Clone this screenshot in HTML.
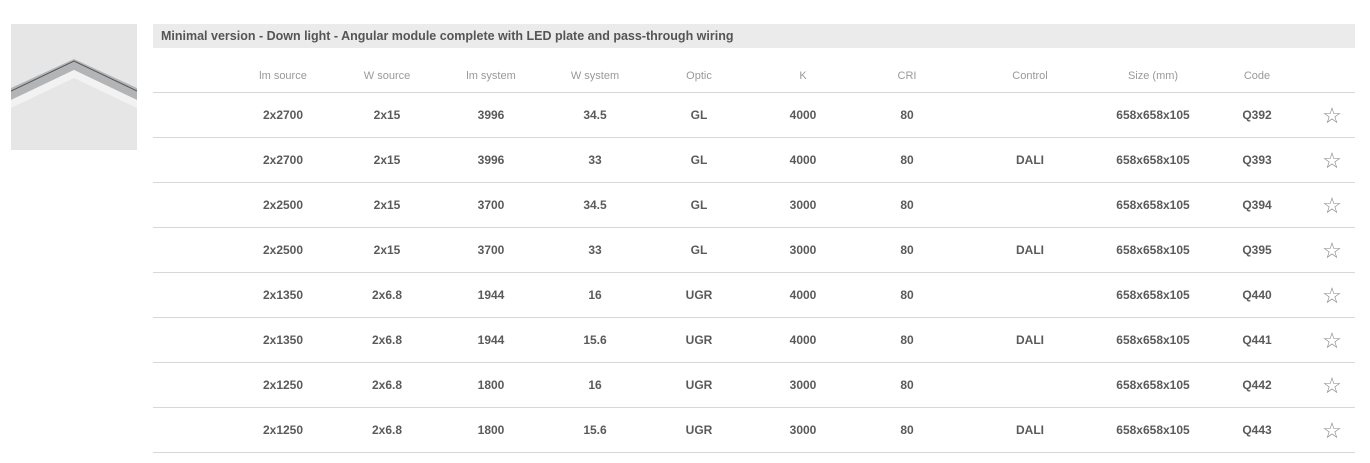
<!DOCTYPE html>
<html><head><style>
body{margin:0;width:1370px;height:463px;background:#fff;font-family:"Liberation Sans",sans-serif;position:relative;overflow:hidden}
.img{position:absolute;left:11px;top:24px;width:126px;height:126px;background:#e6e6e6}
.bar{position:absolute;left:153px;top:24px;width:1202px;height:24px;background:#ebebeb;font-size:12.5px;font-weight:bold;color:#555;line-height:24px;padding-left:8px;box-sizing:border-box}
.t{position:absolute;transform:translateX(-50%);white-space:nowrap}
.h{font-size:11px;color:#999;top:70px}
.d{font-size:12px;color:#5a5a5a;font-weight:bold}
.line{position:absolute;left:153px;width:1202px;height:1px;background:#d8d8d8}
.star{position:absolute;font-size:22px;color:#888;transform:translateX(-50%)}
</style></head><body>
<div class="img"><svg width="126" height="126" viewBox="0 0 126 126">
<polygon points="0,64 63,35 126,64 126,76 63,46 0,76" fill="#b2b4b6"/>
<polyline points="0,67 63,37 126,67" fill="none" stroke="#555" stroke-width="1"/>
<polygon points="0,76 63,46 126,76 126,84 63,54 0,84" fill="#f2f2f2"/>
</svg></div>
<div class="bar">Minimal version - Down light - Angular module complete with LED plate and pass-through wiring</div>
<div id="c"></div>
<script>
const xs=[283,387,491,595,699,803,907,1030,1153,1257];
const hd=["lm source","W source","lm system","W system","Optic","K","CRI","Control","Size (mm)","Code"];
const rows=[["2x2700","2x15","3996","34.5","GL","4000","80","","658x658x105","Q392"],
["2x2700","2x15","3996","33","GL","4000","80","DALI","658x658x105","Q393"],
["2x2500","2x15","3700","34.5","GL","3000","80","","658x658x105","Q394"],
["2x2500","2x15","3700","33","GL","3000","80","DALI","658x658x105","Q395"],
["2x1350","2x6.8","1944","16","UGR","4000","80","","658x658x105","Q440"],
["2x1350","2x6.8","1944","15.6","UGR","4000","80","DALI","658x658x105","Q441"],
["2x1250","2x6.8","1800","16","UGR","3000","80","","658x658x105","Q442"],
["2x1250","2x6.8","1800","15.6","UGR","3000","80","DALI","658x658x105","Q443"]];
let h="";
hd.forEach((s,i)=>h+=`<div class="t h" style="left:${xs[i]}px">${s}</div>`);
rows.forEach((r,k)=>{
 h+=`<div class="line" style="top:${92+45*k}px"></div>`;
 r.forEach((s,i)=>h+=`<div class="t d" style="left:${xs[i]}px;top:${108+45*k}px">${s}</div>`);
 h+=`<div class="star" style="left:1332px;top:${103+45*k}px">☆</div>`;
});
h+=`<div class="line" style="top:${92+45*8}px"></div>`;
document.getElementById("c").innerHTML=h;
</script>
</body></html>
